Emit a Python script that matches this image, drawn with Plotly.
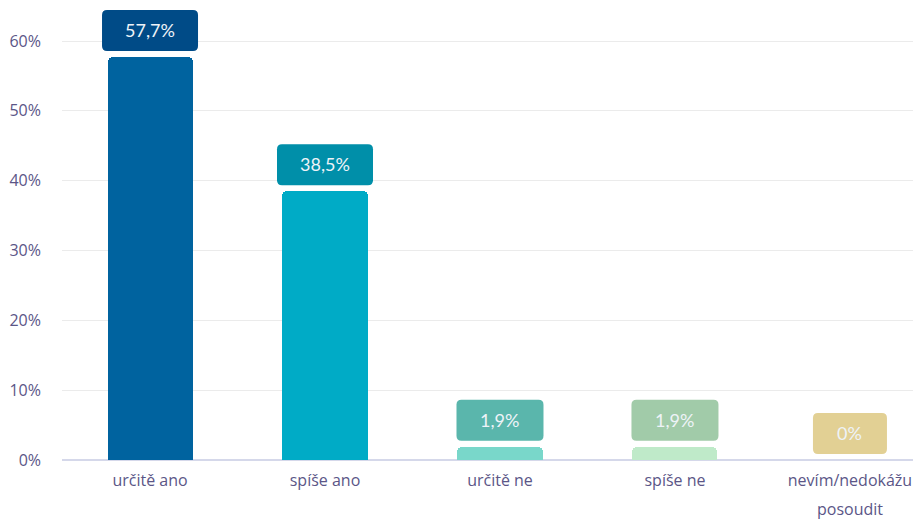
import plotly.graph_objects as go

# data
categories = ["určitě ano", "spíše ano", "určitě ne", "spíše ne", "nevím/nedokážu<br>posoudit"]
values = [57.7, 38.5, 1.9, 1.9, 0.0]
value_labels = ["57,7%", "38,5%", "1,9%", "1,9%", "0%"]

bar_colors = ["#00639f", "#00abc6", "#79d7ca", "#bfeac9", "#f3e6b4"]
box_colors = ["#004b87", "#008fa9", "#5ab6ac", "#a1cba9", "#e2d094"]

x = list(range(len(categories)))

fig = go.Figure()
fig.add_trace(
    go.Bar(
        x=x,
        y=values,
        width=0.486,
        marker=dict(color=bar_colors, line=dict(width=0), cornerradius=5),
        hoverinfo="skip",
    )
)


def rounded_box(w, y0, y1, r):
    h = w / 2
    return (
        f"M {-h + r},{y0} L {h - r},{y0} Q {h},{y0} {h},{y0 + r} "
        f"L {h},{y1 - r} Q {h},{y1} {h - r},{y1} "
        f"L {-h + r},{y1} Q {-h},{y1} {-h},{y1 - r} "
        f"L {-h},{y0 + r} Q {-h},{y0} {-h + r},{y0} Z"
    )


# value label boxes, width from a rough text width estimate
char_w = {",": 4, "%": 13}
for i, (v, lab) in enumerate(zip(values, value_labels)):
    tw = sum(char_w.get(c, 9) for c in lab)
    fig.add_shape(
        type="path",
        xref="x",
        yref="y",
        xsizemode="pixel",
        ysizemode="pixel",
        xanchor=i,
        yanchor=v,
        path=rounded_box(tw + 52, 6, 47, 5),
        fillcolor=box_colors[i],
        line=dict(width=0),
        layer="above",
    )
    fig.add_annotation(
        x=i,
        y=v,
        text=lab,
        showarrow=False,
        yanchor="middle",
        yshift=27,
        font=dict(family="Lato", size=18, color="#eef3f8"),
    )

# category labels: first line as tick text, further lines spaced wider
tick_text = [c.split("<br>")[0] for c in categories]
for i, c in enumerate(categories):
    for k, line in enumerate(c.split("<br>")[1:], start=1):
        fig.add_annotation(
            x=i,
            y=0,
            text=line,
            showarrow=False,
            yanchor="middle",
            yshift=-20 - 29 * k,
            font=dict(family="Open Sans", size=16, color="#5b5687"),
        )

fig.update_layout(
    width=913,
    height=512,
    margin=dict(l=54, r=0, t=0, b=60),
    plot_bgcolor="white",
    paper_bgcolor="white",
    showlegend=False,
    bargap=0,
    font=dict(family="Open Sans", size=16, color="#5b5687"),
    xaxis=dict(
        range=[-0.503, 4.406],
        tickvals=x,
        ticktext=tick_text,
        showgrid=False,
        zeroline=False,
        showline=False,
        ticks="",
        ticklabelstandoff=9,
        fixedrange=True,
    ),
    yaxis=dict(
        range=[0, 64.73],
        tickvals=[0, 10, 20, 30, 40, 50, 60],
        ticktext=["0%", "10%", "20%", "30%", "40%", "50%", "60%"],
        gridcolor="#ebebeb",
        gridwidth=1,
        zeroline=True,
        zerolinecolor="#d5d8ea",
        zerolinewidth=2,
        ticks="",
        ticklabelstandoff=20,
        fixedrange=True,
    ),
)

fig.write_html("out.html")
